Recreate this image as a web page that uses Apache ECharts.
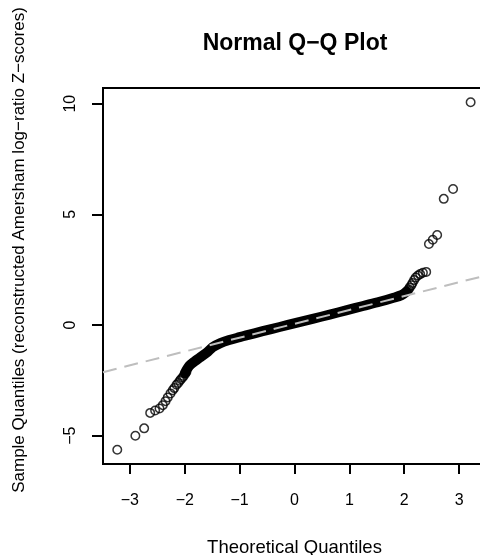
<!DOCTYPE html>
<html>
<head>
<meta charset="utf-8">
<script src="https://cdn.jsdelivr.net/npm/echarts@6/dist/echarts.min.js"></script>
<style>
  html, body { margin: 0; padding: 0; background: #fff; }
  #qq { width: 480px; height: 555px; }
</style>
</head>
<body>
<div id="qq"></div>
<script>
// sparse lower tail: [theoretical, sample]
var lowTail = [
  [-3.23, -5.64], [-2.90, -5.00], [-2.74, -4.67], [-2.63, -3.97], [-2.54, -3.86],
  [-2.46, -3.77], [-2.40, -3.62], [-2.35, -3.44], [-2.31, -3.27], [-2.26, -3.09],
  [-2.22, -2.95], [-2.19, -2.85], [-2.15, -2.70], [-2.12, -2.62], [-2.09, -2.52],
  [-2.07, -2.45], [-2.04, -2.37], [-2.02, -2.30], [-1.99, -2.20], [-1.97, -2.12]
];
// sparse upper tail
var highTail = [
  [3.21, 10.07], [2.89, 6.15], [2.72, 5.70], [2.60, 4.07], [2.52, 3.85],
  [2.45, 3.66], [2.40, 2.40], [2.34, 2.36], [2.29, 2.30], [2.25, 2.24],
  [2.21, 2.15], [2.18, 2.03], [2.15, 1.90], [2.13, 1.80], [2.10, 1.70],
  [2.08, 1.62], [2.06, 1.55]
];
// dense middle of the sample, traced along the band
var bandX = [-2.00, -1.92, -1.82, -1.73, -1.60, -1.49, -1.35, -1.19, -1.00, -0.88,
             -0.58, -0.27, 0.03, 0.33, 0.64, 0.94, 1.25, 1.55, 1.79, 1.95, 2.04];
var bandY = [-2.18, -1.85, -1.64, -1.48, -1.25, -1.00, -0.82, -0.68, -0.55, -0.47,
             -0.28, -0.09, 0.10, 0.28, 0.47, 0.66, 0.86, 1.05, 1.22, 1.35, 1.51];
// qqline ends
var lineX = [-3.49, 3.49];
var lineY = [-2.13, 2.24];

var xTicks = [-3, -2, -1, 0, 1, 2, 3];
var yTicks = [-5, 0, 5, 10];

function minus(v) { return String(v).replace('-', '\u2212'); }

var myChart = echarts.init(document.getElementById('qq'));
var font = 'Liberation Sans, Arial, sans-serif';

myChart.setOption({
  animation: false,
  title: {
    text: 'Normal Q\u2212Q Plot',
    left: 290, top: 27, textAlign: 'center',
    textStyle: { fontFamily: font, fontSize: 23, fontWeight: 'bold', color: '#000' }
  },
  graphic: [{
    type: 'text', x: 19, y: 250, rotation: Math.PI / 2,
    style: {
      text: 'Sample Quantiles (reconstructed Amersham log\u2212ratio Z\u2212scores)',
      font: '17px ' + font, fill: '#000', align: 'center', verticalAlign: 'middle'
    }
  }],
  grid: {
    left: 103, top: 88, width: 383, height: 376, outerBoundsMode: 'none',
    show: true, borderColor: '#000', borderWidth: 2, backgroundColor: 'transparent'
  },
  xAxis: {
    type: 'value', min: -3.49, max: 3.49,
    name: 'Theoretical Quantiles', nameLocation: 'middle', nameGap: 74,
    nameTextStyle: { fontFamily: font, fontSize: 18.5, color: '#000' },
    axisLine: { show: false, onZero: false },
    axisTick: { show: true, customValues: xTicks, length: 10, lineStyle: { color: '#000', width: 2 } },
    axisLabel: { customValues: xTicks, margin: 29, fontFamily: font, fontSize: 16, color: '#000', formatter: minus },
    splitLine: { show: false }
  },
  yAxis: {
    type: 'value', min: -6.28, max: 10.71,
    axisLine: { show: false, onZero: false },
    axisTick: { show: true, customValues: yTicks, length: 11, lineStyle: { color: '#000', width: 2 } },
    axisLabel: { customValues: yTicks, rotate: 90, margin: 24, fontFamily: font, fontSize: 16, color: '#000', formatter: minus },
    splitLine: { show: false }
  },
  series: [
    {
      type: 'line',
      data: bandX.map(function (x, i) { return [x, bandY[i]]; }),
      showSymbol: false, smooth: 0.3,
      lineStyle: { color: '#000', width: 10, cap: 'round', join: 'round' },
      z: 2
    },
    {
      type: 'scatter',
      data: lowTail.concat(highTail),
      symbol: 'circle', symbolSize: 8.5,
      itemStyle: { color: 'rgba(0,0,0,0)', borderColor: '#000', borderWidth: 1.5 },
      z: 3
    },
    {
      type: 'line',
      data: lineX.map(function (x, i) { return [x, lineY[i]]; }),
      showSymbol: false,
      lineStyle: { color: '#bebebe', width: 2, type: [14, 8] },
      z: 4
    }
  ]
});
</script>
</body>
</html>
